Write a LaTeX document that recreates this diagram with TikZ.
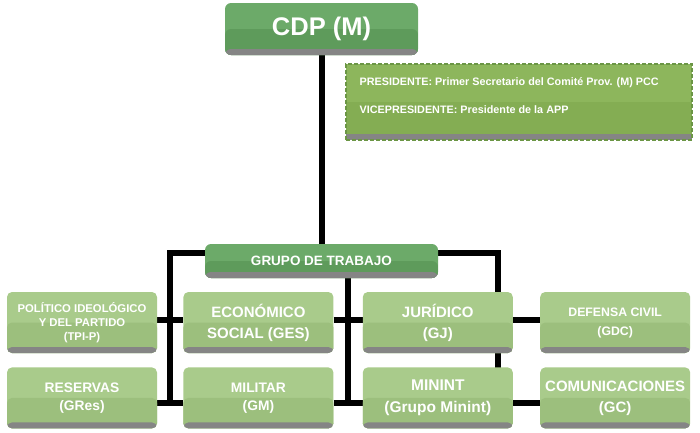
\documentclass[tikz,border=0pt]{standalone}
\usepackage{fontspec}
\setmainfont{Liberation Sans}
\usepackage{tikz}
\usetikzlibrary{positioning, calc, backgrounds}
\definecolor{HeadLight}{HTML}{6CAA69}
\definecolor{HeadDark}{HTML}{5E9B5B}
\definecolor{UnitLight}{HTML}{A9CB8B}
\definecolor{UnitDark}{HTML}{9CBF7D}
\definecolor{InfoLight}{HTML}{8DB65C}
\definecolor{InfoDark}{HTML}{84AD53}
\definecolor{InfoEdge}{HTML}{6B9645}
\definecolor{ShadowGray}{HTML}{858585}
\tikzset{
  % Box styles
  twotone/.style n args={3}{fill=#1, path picture={
      \fill[#2] (path picture bounding box.west) rectangle (path picture bounding box.south east);
      \fill[#3] (path picture bounding box.south west) rectangle ([yshift=6pt]path picture bounding box.south east);}},
  headbox/.style={rectangle, rounded corners=6pt, twotone={HeadLight}{HeadDark}{ShadowGray}, text=white, font=\bfseries, align=center, inner sep=0pt},
  unitbox/.style={rectangle, rounded corners=5pt, twotone={UnitLight}{UnitDark}{ShadowGray}, text=white, minimum width=150pt, minimum height=61pt, inner sep=0pt, align=center},
  infobox/.style={rectangle, twotone={InfoLight}{InfoDark}{ShadowGray}, draw=InfoEdge, line width=1.2pt, dash pattern=on 4pt off 2pt, minimum width=346pt, minimum height=76pt},
  infotext/.style={text=white, font=\fontsize{10.8}{12}\selectfont\bfseries, inner sep=0pt},
  % Line styles
  busline/.style={line width=6pt, black}
}
\begin{document}
\begin{tikzpicture}[x=1pt, y=-1pt]
  \useasboundingbox (0,0) rectangle (700,432);

  % Top council
  \node[headbox, minimum width=193pt, minimum height=52pt, font=\fontsize{25.5}{28}\selectfont\bfseries] (cdp) at (321.5,29) {CDP (M)};

  % Presidency
  \node[infobox] (info) at (519,102) {};
  \node[infotext, anchor=west] (pres) at ([xshift=14pt, yshift=19pt]info.west) {PRESIDENTE: Primer Secretario del Comité Prov. (M) PCC};
  \node[infotext, anchor=west] (vice) at ([xshift=14pt, yshift=-8pt]info.west) {VICEPRESIDENTE: Presidente de la APP};

  % Working group
  \node[headbox, minimum width=233pt, minimum height=34pt, font=\fontsize{13.5}{15}\selectfont\bfseries] (gt) at (321.5,261) {GRUPO DE TRABAJO};

  % Row one
  \node[unitbox, font=\fontsize{11.3}{14}\selectfont\bfseries] (tpi) at (82,322.5) {POLÍTICO IDEOLÓGICO\\Y DEL PARTIDO\\(TPI-P)};
  \node[unitbox, right=26pt of tpi, font=\fontsize{15}{21}\selectfont\bfseries] (ges) {ECONÓMICO\\SOCIAL (GES)};
  \node[unitbox, right=29pt of ges, font=\fontsize{15}{21}\selectfont\bfseries] (gj) {JURÍDICO\\(GJ)};
  \node[unitbox, right=27pt of gj, font=\fontsize{12.3}{19}\selectfont\bfseries] (gdc) {DEFENSA CIVIL\\(GDC)};

  % Row two
  \node[unitbox, below=14pt of tpi, font=\fontsize{13.8}{18}\selectfont\bfseries] (gres) {RESERVAS\\(GRes)};
  \node[unitbox, below=14pt of ges, font=\fontsize{13.8}{18}\selectfont\bfseries] (gm) {MILITAR\\(GM)};
  \node[unitbox, below=14pt of gj, font=\fontsize{15.5}{22}\selectfont\bfseries] (minint) {MININT\\(Grupo Minint)};
  \node[unitbox, below=14pt of gdc, font=\fontsize{15}{21}\selectfont\bfseries] (gc) {COMUNICACIONES\\(GC)};

  % Connectors
  \begin{scope}[on background layer]
    \coordinate (busL) at ($(gres.east)!0.5!(gm.west)+(0,8.5)$);
    \coordinate (busM) at ($(gm.east)!0.5!(minint.west)+(0,8.5)$);
    \coordinate (busR) at ($(minint.center)+(60.5,0)$);
    \draw[busline] (cdp) -- (gt);
    \draw[busline] ([yshift=8pt]gt.west) -| (busL);
    \draw[busline] ([yshift=8pt]gt.east) -| (busR);
    \draw[busline] (gt.south -| busM) -- (busM);
    \draw[busline] ([yshift=2.5pt]tpi.east) -- ([yshift=2.5pt]ges.west);
    \draw[busline] ([yshift=2.5pt]ges.east) -- ([yshift=2.5pt]gj.west);
    \draw[busline] ([yshift=2.5pt]gj.east) -- ([yshift=2.5pt]gdc.west);
    \draw[busline] ([yshift=-5.5pt]gres.east) -- ([yshift=-5.5pt]gm.west);
    \draw[busline] ([yshift=-5.5pt]gm.east) -- ([yshift=-5.5pt]minint.west);
    \draw[busline] ([yshift=-5.5pt]minint.east) -- ([yshift=-5.5pt]gc.west);
  \end{scope}
\end{tikzpicture}
\end{document}
